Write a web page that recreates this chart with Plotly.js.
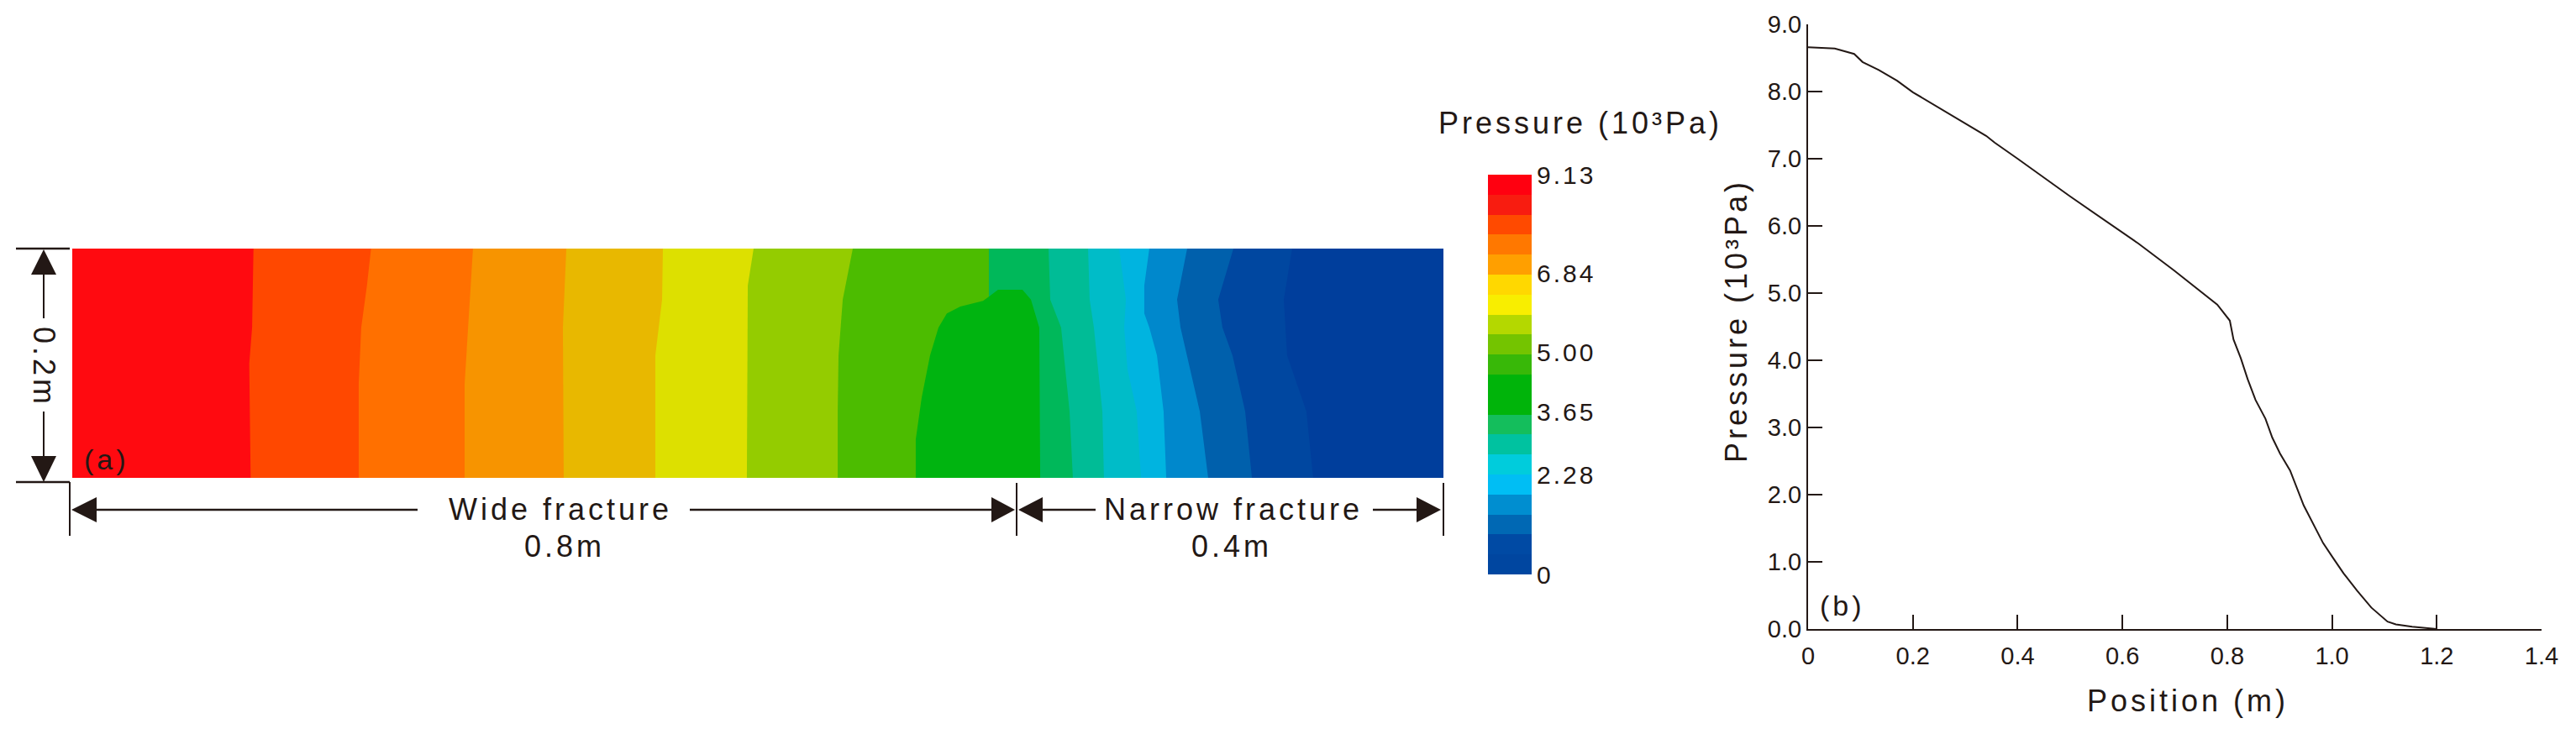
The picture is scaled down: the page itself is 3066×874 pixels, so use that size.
<!DOCTYPE html>
<html>
<head>
<meta charset="utf-8">
<script src="https://cdn.plot.ly/plotly-3.0.1.min.js"></script>
<style>
html,body{margin:0;padding:0;background:#fff}
#chart{width:3066px;height:874px}
.annotation-text{letter-spacing:4px}
.xtick text,.ytick text,.y3tick text{letter-spacing:3px}
</style>
</head>
<body>
<div id="chart"></div>
<script>
// Curve (b): pressure along the fracture
const positionM = [0,0.051,0.088,0.104,0.135,0.17,0.2,0.269,0.34,0.356,0.4,0.5,0.6,0.63,0.698,0.781,0.791,0.805,0.812,0.826,0.839,0.854,0.873,0.886,0.901,0.92,0.946,0.964,0.983,1.001,1.022,1.048,1.075,1.106,1.122,1.153,1.2];
const pressureKPa = [8.66,8.64,8.56,8.44,8.32,8.16,7.99,7.67,7.34,7.24,7.0,6.44,5.9,5.74,5.34,4.83,4.73,4.59,4.31,4.03,3.72,3.41,3.13,2.85,2.61,2.36,1.84,1.56,1.28,1.07,0.83,0.57,0.32,0.11,0.07,0.035,0];
const curveXTicks = [0,0.2,0.4,0.6,0.8,1.0,1.2,1.4];
const curveXLabels = ["0","0.2","0.4","0.6","0.8","1.0","1.2","1.4"];
const curveYTicks = [0,1,2,3,4,5,6,7,8,9];
const curveYLabels = ["0.0","1.0","2.0","3.0","4.0","5.0","6.0","7.0","8.0","9.0"];

// Colour bar
const barCentres = [0.228,0.685,1.141,1.598,2.054,2.511,2.967,3.424,3.880,4.337,4.793,5.250,5.706,6.163,6.619,7.076,7.532,7.989,8.445,8.902];
const barColors = ["#0046A0","#004AA4","#0068B4","#008ED0","#00BEF4","#00CCDC","#00C2A0","#14BE5C","#00B40A","#00B40A","#38B808","#74C400","#B4D800","#F8EE00","#FFD800","#FF9F00","#FF7800","#FF4A00","#F81C10","#FF0010"];
const barTickPositions = [0,2.28,3.72,5.08,6.88,9.13];
const barTickLabels = ["0","2.28","3.65","5.00","6.84","9.13"];

// Field (a): isobars, top edge to bottom edge
const fieldLength = 1.2, fieldHeight = 0.2;
const fieldBaseColor = "#FF0A10";
const iso8217X=[0.1586,0.1574,0.1549,0.1561], iso8217Y=[0.2,0.1311,0.0996,0];
const iso7760X=[0.2615,0.2579,0.2529,0.2507,0.2507], iso7760Y=[0.2,0.1678,0.1311,0.0823,0];
const iso7304X=[0.3507,0.3463,0.3434,0.3434], iso7304Y=[0.2,0.1311,0.0823,0];
const iso6847X=[0.4324,0.4294,0.4301], iso6847Y=[0.2,0.1311,0];
const iso6391X=[0.5169,0.5162,0.5103,0.5103], iso6391Y=[0.2,0.1555,0.1067,0];
const iso5934X=[0.5963,0.5912,0.5904], iso5934Y=[0.2,0.1678,0];
const iso5478X=[0.6831,0.6743,0.6706,0.6699,0.6699], iso5478Y=[0.2,0.1555,0.1067,0.0579,0];
const iso5021X=[0.8022,0.8022,0.7971,0.7772,0.7654,0.7581,0.7507,0.7434,0.7382,0.7382], iso5021Y=[0.2,0.158,0.1544,0.1495,0.1434,0.1311,0.1067,0.0701,0.0335,0];
const iso3652X=[0.8022,0.8022,0.8102,0.8316,0.839,0.8463,0.8471], iso3652Y=[0.2,0.158,0.1641,0.1641,0.1555,0.1311,0];
const iso3195X=[0.8544,0.8559,0.8654,0.8691,0.8728,0.8757], iso3195Y=[0.2,0.1555,0.1311,0.0945,0.0579,0];
const iso2739X=[0.889,0.8904,0.8941,0.8978,0.9015,0.9029], iso2739Y=[0.2,0.1555,0.1311,0.0945,0.0579,0];
const iso2282X=[0.9162,0.9221,0.9206,0.9235,0.9316,0.9353], iso2282Y=[0.2,0.1555,0.1311,0.0945,0.0579,0];
const iso1826X=[0.9426,0.9382,0.9382,0.9426,0.9493,0.9551,0.9574], iso1826Y=[0.2,0.1678,0.1434,0.1311,0.1067,0.0579,0];
const iso1369X=[0.9757,0.9669,0.9699,0.9757,0.9868,0.9941], iso1369Y=[0.2,0.1555,0.1311,0.1067,0.0579,0];
const iso0913X=[1.0162,1.0029,1.0066,1.0154,1.0265,1.0324], iso0913Y=[0.2,0.1555,0.1311,0.1067,0.0579,0];
const iso0456X=[1.0676,1.0603,1.0632,1.0801,1.086], iso0456Y=[0.2,0.1555,0.1067,0.0579,0];
const bandColors = ["#FF4800","#FF7000","#F79400","#E8B800","#DDE000","#94CC00","#4CBC00","#00B410","#00B85A","#00BC96","#00BCC8","#00B4E0","#0088CC","#0060AC","#0047A0","#003E9C"];
const isobarXs = [iso8217X,iso7760X,iso7304X,iso6847X,iso6391X,iso5934X,iso5478X,iso5021X,iso3652X,iso3195X,iso2739X,iso2282X,iso1826X,iso1369X,iso0913X,iso0456X];
const isobarYs = [iso8217Y,iso7760Y,iso7304Y,iso6847Y,iso6391Y,iso5934Y,iso5478Y,iso5021Y,iso3652Y,iso3195Y,iso2739Y,iso2282Y,iso1826Y,iso1369Y,iso0913Y,iso0456Y];

const W = 3066, H = 874;
const INK = "#231815", FONT = "Liberation Sans, Arial, sans-serif";
const px = x => x / W, py = y => 1 - y / H;

const traces = [];
traces.push({type:"scatter",mode:"lines",x:[0,fieldLength,fieldLength,0],y:[0,0,fieldHeight,fieldHeight],fill:"toself",fillcolor:fieldBaseColor,line:{width:0,color:fieldBaseColor},xaxis:"x",yaxis:"y",hoverinfo:"skip",showlegend:false});
bandColors.forEach((c,i)=>{
  traces.push({type:"scatter",mode:"lines",x:isobarXs[i].concat([fieldLength,fieldLength]),y:isobarYs[i].concat([0,fieldHeight]),fill:"toself",fillcolor:c,line:{width:0,color:c},xaxis:"x",yaxis:"y",hoverinfo:"skip",showlegend:false});
});
traces.push({type:"heatmap",x:[0],y:barCentres,z:barCentres.map(v=>[v]),zmin:0,zmax:9.13,colorscale:barColors.flatMap((c,i)=>[[i/20,c],[(i+1)/20,c]]),showscale:false,xaxis:"x3",yaxis:"y3",hoverinfo:"skip"});
traces.push({type:"scatter",mode:"lines",x:positionM,y:pressureKPa,line:{color:INK,width:2},xaxis:"x2",yaxis:"y2",showlegend:false,cliponaxis:false});

const seg=(x1,y1,x2,y2,w)=>({type:"line",xref:"paper",yref:"paper",x0:px(x1),y0:py(y1),x1:px(x2),y1:py(y2),line:{color:INK,width:w||2}});
const tri=(a,b,c)=>({type:"path",xref:"paper",yref:"paper",fillcolor:INK,line:{width:0},path:`M ${px(a[0])} ${py(a[1])} L ${px(b[0])} ${py(b[1])} L ${px(c[0])} ${py(c[1])} Z`});
const shapes=[
  seg(19,296,83,296,2.5),seg(19,574,83,574,2.5),seg(83,574,83,638),
  seg(52,327,52,379),seg(52,490,52,543),
  tri([52,297],[37,327],[67,327]),tri([52,574],[37,543],[67,543]),
  seg(115,607,497,607,2.5),seg(821,607,1180,607,2.5),
  tri([85,607],[115,592],[115,622]),tri([1208,607],[1180,592],[1180,622]),
  seg(1210,575,1210,638),
  tri([1212,607],[1241,592],[1241,622]),
  seg(1241,607,1304,607,2.5),seg(1634,607,1686,607,2.5),
  tri([1715,607],[1686,592],[1686,622]),
  seg(1718,575,1718,638)
];

const label=(text,x,y,size,angle)=>({text,xref:"paper",yref:"paper",x:px(x),y:py(y),xanchor:"center",yanchor:"middle",showarrow:false,textangle:angle||0,font:{family:FONT,size,color:INK}});
const annotations=[
  label("Pressure (10³Pa)",1881,146,36),
  label("Pressure (10³Pa)",2066,382,36,-90),
  label("Position (m)",2604,834,36),
  label("(a)",127,547,34),
  label("(b)",2193,721,34),
  label("Wide fracture",667,606,36),
  label("0.8m",672,650,36),
  label("Narrow fracture",1468,606,36),
  label("0.4m",1466,650,36),
  label("0.2m",53,437,36,90)
];

const hidden={visible:false,showgrid:false,zeroline:false,fixedrange:true};
const tickFont={family:FONT,size:29,color:INK};
const layout={
  width:W,height:H,margin:{l:0,r:0,t:0,b:0,pad:0},paper_bgcolor:"#fff",plot_bgcolor:"rgba(0,0,0,0)",showlegend:false,hovermode:false,
  xaxis:{...hidden,domain:[px(86),px(1718)],range:[0,fieldLength],anchor:"y"},
  yaxis:{...hidden,domain:[py(569),py(296)],range:[0,fieldHeight],anchor:"x"},
  xaxis3:{...hidden,domain:[px(1771),px(1823)],range:[-0.5,0.5],anchor:"y3"},
  yaxis3:{domain:[py(684),py(208)],range:[0,9.13],anchor:"x3",side:"right",showgrid:false,zeroline:false,showline:false,ticks:"",ticklabelstandoff:5,
    tickmode:"array",tickvals:barTickPositions,ticktext:barTickLabels,tickfont:{family:FONT,size:30,color:INK},fixedrange:true},
  xaxis2:{domain:[px(2152),px(3025)],range:[0,1.4],anchor:"y2",showgrid:false,zeroline:false,showline:true,linecolor:INK,linewidth:2,
    ticks:"inside",ticklen:17,tickwidth:2,tickcolor:INK,tickmode:"array",tickvals:curveXTicks,ticktext:curveXLabels,tickfont:tickFont,ticklabelstandoff:5,fixedrange:true},
  yaxis2:{domain:[py(749),py(29)],range:[0,9],anchor:"x2",showgrid:false,zeroline:false,showline:true,linecolor:INK,linewidth:2,
    ticks:"inside",ticklen:17,tickwidth:2,tickcolor:INK,tickmode:"array",tickvals:curveYTicks,ticktext:curveYLabels,tickfont:tickFont,fixedrange:true},
  shapes,annotations
};
Plotly.newPlot("chart",traces,layout,{displayModeBar:false,staticPlot:true});
</script>
</body>
</html>
